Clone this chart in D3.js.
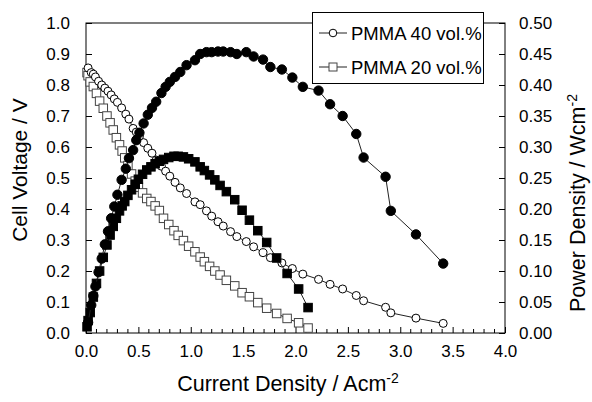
<!DOCTYPE html>
<html><head><meta charset="utf-8">
<script src="https://cdn.jsdelivr.net/npm/d3@7/dist/d3.min.js"></script>
<style>body{margin:0;background:#fff}svg{display:block;font-family:"Liberation Sans",Arial,sans-serif}</style>
</head><body><svg id="c" width="592" height="402"></svg>
<script>
// PMMA 40 vol.% : current density (A/cm2), cell voltage (V), power density (W/cm2)
const i40 = [0.02,0.05,0.07,0.09,0.12,0.15,0.18,0.21,0.24,0.27,0.30,0.34,0.38,0.41,0.45,0.48,0.51,0.55,0.59,0.63,0.67,0.72,0.76,0.80,0.85,0.90,0.96,1.04,1.09,1.15,1.20,1.26,1.31,1.38,1.44,1.53,1.60,1.69,1.76,1.87,1.97,2.07,2.22,2.33,2.45,2.58,2.65,2.86,2.91,3.15,3.41];
const v40 = [0.855,0.84,0.835,0.826,0.812,0.80,0.79,0.78,0.768,0.755,0.744,0.726,0.706,0.69,0.66,0.648,0.634,0.614,0.596,0.58,0.558,0.538,0.522,0.506,0.486,0.468,0.45,0.423,0.414,0.394,0.377,0.359,0.345,0.327,0.311,0.295,0.278,0.259,0.243,0.226,0.208,0.19,0.173,0.157,0.142,0.121,0.104,0.083,0.065,0.048,0.031];
const p40 = [0.017,0.045,0.06,0.075,0.098,0.12,0.143,0.164,0.185,0.204,0.223,0.247,0.265,0.282,0.295,0.311,0.323,0.338,0.352,0.363,0.373,0.387,0.397,0.405,0.413,0.421,0.432,0.44,0.45,0.453,0.453,0.454,0.454,0.453,0.45,0.453,0.446,0.441,0.429,0.425,0.412,0.397,0.391,0.369,0.35,0.321,0.283,0.252,0.197,0.159,0.112];
// PMMA 20 vol.%
const i20 = [0.01,0.02,0.04,0.07,0.10,0.13,0.165,0.20,0.23,0.26,0.29,0.32,0.345,0.37,0.40,0.435,0.47,0.50,0.54,0.58,0.62,0.66,0.70,0.74,0.79,0.84,0.88,0.93,0.98,1.04,1.09,1.13,1.18,1.23,1.28,1.34,1.42,1.49,1.56,1.64,1.725,1.82,1.92,2.03,2.12];
const v20 = [0.84,0.83,0.81,0.795,0.773,0.748,0.725,0.70,0.678,0.655,0.63,0.607,0.587,0.565,0.54,0.513,0.49,0.47,0.452,0.434,0.424,0.41,0.395,0.37,0.35,0.33,0.315,0.298,0.28,0.262,0.245,0.23,0.215,0.2,0.187,0.17,0.152,0.13,0.117,0.098,0.08,0.063,0.047,0.033,0.016];
const p20 = [0.01,0.02,0.033,0.058,0.08,0.1,0.122,0.142,0.158,0.172,0.185,0.197,0.205,0.212,0.222,0.231,0.24,0.248,0.256,0.263,0.268,0.273,0.277,0.28,0.283,0.285,0.285,0.284,0.281,0.276,0.268,0.262,0.255,0.247,0.238,0.228,0.215,0.198,0.182,0.165,0.146,0.121,0.096,0.071,0.041];
const xTicks = [0,0.5,1,1.5,2,2.5,3,3.5,4];
const yTicks = [0,0.1,0.2,0.3,0.4,0.5,0.6,0.7,0.8,0.9,1.0];
const y2Ticks = [0,0.05,0.10,0.15,0.20,0.25,0.30,0.35,0.40,0.45,0.50];
const legendLabels = ["PMMA 40 vol.%","PMMA 20 vol.%"];

const svg = d3.select("#c");
const L=86,R=505,T=23,B=333;
const x = d3.scaleLinear().domain([0,4]).range([L,R]);
const y = d3.scaleLinear().domain([0,1]).range([B,T]);
const y2 = d3.scaleLinear().domain([0,0.5]).range([B,T]);

// frame
svg.append("rect").attr("x",L).attr("y",T).attr("width",R-L).attr("height",B-T).attr("fill","none").attr("stroke","#000").attr("stroke-width",1);

// axes
const ax = svg.append("g").attr("transform",`translate(0,${B})`)
  .call(d3.axisBottom(x).tickValues(xTicks).tickFormat(d3.format(".1f")).tickSizeInner(-6).tickSizeOuter(0).tickPadding(12));
ax.select(".domain").remove();
const minor = d3.range(0,41).map(d=>d/10).filter(d=>Math.abs(d*2-Math.round(d*2))>1e-6);
svg.append("g").selectAll("line").data(minor).join("line")
  .attr("x1",d=>x(d)).attr("x2",d=>x(d)).attr("y1",B).attr("y2",B-4).attr("stroke","#000");
const ay = svg.append("g").attr("transform",`translate(${L},0)`)
  .call(d3.axisLeft(y).tickValues(yTicks).tickFormat(d3.format(".1f")).tickSizeInner(-6).tickSizeOuter(0).tickPadding(16));
ay.select(".domain").remove();
const ay2 = svg.append("g").attr("transform",`translate(${R},0)`)
  .call(d3.axisRight(y2).tickValues(y2Ticks).tickFormat(d3.format(".2f")).tickSizeInner(-6).tickSizeOuter(0).tickPadding(14));
ay2.select(".domain").remove();
svg.selectAll(".tick text").attr("font-size",17).attr("fill","#000").attr("font-family","Liberation Sans, Arial, sans-serif");
svg.selectAll(".tick line").attr("stroke","#000");

// titles
const xt = svg.append("text").attr("x",288).attr("y",391).attr("text-anchor","middle").attr("font-size",21.5);
xt.append("tspan").text("Current Density / Acm");
xt.append("tspan").attr("dy",-8).attr("font-size",14).text("-2");
svg.append("text").attr("transform","translate(27,170) rotate(-90)").attr("text-anchor","middle").attr("font-size",21).text("Cell Voltage / V");
const yt2 = svg.append("text").attr("transform","translate(585,203) rotate(-90)").attr("text-anchor","middle").attr("font-size",21.5);
yt2.append("tspan").text("Power Density / Wcm");
yt2.append("tspan").attr("dy",-8).attr("font-size",14).text("-2");

const line = d3.line().x(d=>x(d[0])).y(d=>d[1]);
function series(xs, vals, sc, kind, filled){
  const pts = xs.map((d,k)=>[d, sc(vals[k])]);
  svg.append("path").attr("d",line(pts)).attr("fill","none").attr("stroke","#222").attr("stroke-width",1);
  const g = svg.append("g");
  if(kind==="c"){
    g.selectAll("circle").data(pts).join("circle").attr("cx",d=>x(d[0])).attr("cy",d=>d[1])
      .attr("r",filled?4.7:4).attr("fill",filled?"#000":"#fff").attr("stroke","#000").attr("stroke-width",1);
  } else {
    const s = 8.5;
    g.selectAll("rect").data(pts).join("rect").attr("x",d=>x(d[0])-s/2).attr("y",d=>d[1]-s/2)
      .attr("width",s).attr("height",s).attr("fill",filled?"#000":"#fff").attr("stroke",filled?"#000":"#444").attr("stroke-width",1);
  }
}
series(i20, v20, y, "s", false);
series(i40, v40, y, "c", false);
series(i20, p20, y2, "s", true);
series(i40, p40, y2, "c", true);

// legend
svg.append("rect").attr("x",312.5).attr("y",12.5).attr("width",171).attr("height",71).attr("fill","#fff").attr("stroke","#000");
legendLabels.forEach((t,k)=>{
  const cy = 33 + k*34;
  svg.append("line").attr("x1",319).attr("x2",347).attr("y1",cy).attr("y2",cy).attr("stroke","#222");
  if(k===0) svg.append("circle").attr("cx",333).attr("cy",cy).attr("r",3.8).attr("fill","#fff").attr("stroke","#000");
  else svg.append("rect").attr("x",329).attr("y",cy-4).attr("width",8).attr("height",8).attr("fill","#fff").attr("stroke","#444");
  svg.append("text").attr("x",351).attr("y",cy+6.5).attr("font-size",18.5).text(t);
});
</script></body></html>
